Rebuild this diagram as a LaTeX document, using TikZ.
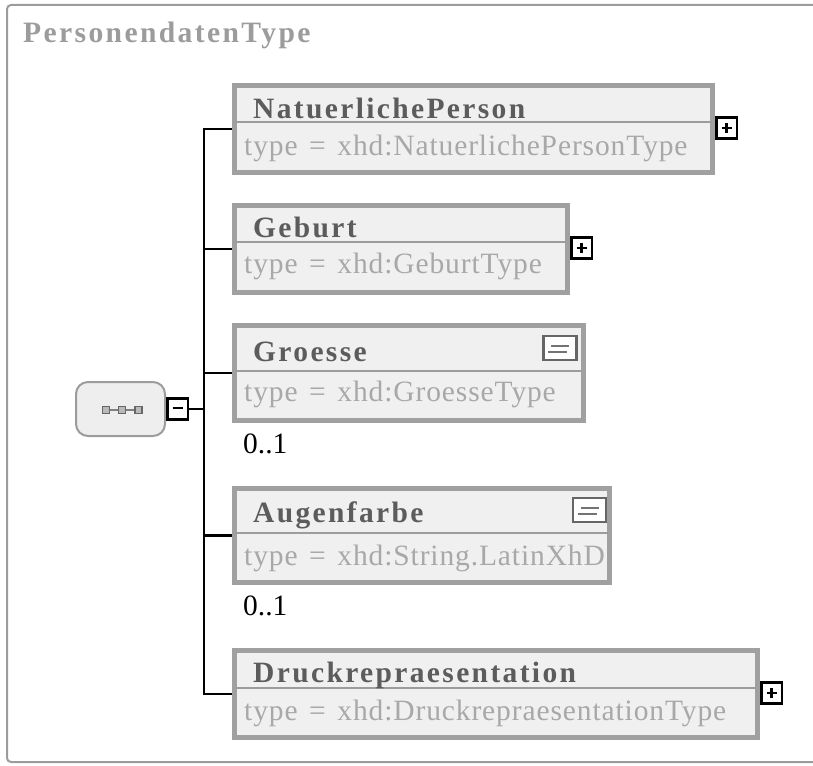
\documentclass[tikz,border=0pt]{standalone}
\usepackage{fontspec}
\setmainfont{Liberation Serif}
\newfontfamily\namefont[LetterSpace=8]{Liberation Serif}
\newfontfamily\typefont[LetterSpace=3,WordSpace=1.4]{Liberation Serif}
\definecolor{framegray}{HTML}{9C9C9C}
\definecolor{boxgray}{HTML}{A0A0A0}
\definecolor{boxfill}{HTML}{F0F0F0}
\definecolor{namegray}{HTML}{5C5C5C}
\definecolor{typegray}{HTML}{A8A8A8}
\definecolor{seqfill}{HTML}{EEEEEE}
\begin{document}
\begin{tikzpicture}[x=1pt,y=-1pt,
  frame/.style={draw=framegray,line width=2pt,rounded corners=4pt},
  elem/.style={draw=boxgray,line width=5pt,fill=boxfill,inner sep=0pt},
  sepline/.style={draw=framegray,line width=2.5pt},
  elname/.style={anchor=base west,inner sep=0pt,text=namegray,
    font=\namefont\bfseries\fontsize{29.5}{34}\selectfont},
  eltype/.style={anchor=base west,inner sep=0pt,text=typegray,
    font=\typefont\fontsize{29.5}{34}\selectfont},
  occurs/.style={anchor=base west,inner sep=0pt,
    font=\fontsize{29.5}{34}\selectfont},
  togglebox/.style={draw,line width=2.6pt,fill=white,minimum size=20.5pt,inner sep=0pt},
  sign/.style={line width=2.8pt},
  conn/.style={draw,line width=2.5pt},
  seqbox/.style={draw=framegray,line width=2pt,fill=seqfill,rounded corners=12pt,
    minimum width=89pt,minimum height=54pt},
  seqdot/.style={draw=gray!80!black,line width=1.4pt,fill=gray!55,minimum size=7pt,inner sep=0pt},
  docicon/.style={draw=gray!80!black,line width=2.4pt,fill=white,
    minimum width=33pt,minimum height=24pt,inner sep=0pt},
  docline/.style={draw=gray!90!black,line width=2pt}]
  \useasboundingbox (0,0) rectangle (813,765);
  % outer complex type
  \draw[frame] (7,5) rectangle (840,762);
  \node[anchor=base west,inner sep=0pt,text=framegray,
    font=\namefont\bfseries\fontsize{29.6}{35}\selectfont] (typename) at (23,43) {PersonendatenType};
  % sequence compositor
  \node[seqbox] (seq) at (120.5,409) {};
  \node[seqdot] (seqa) at (106,410) {};
  \node[seqdot] (seqb) at (122,410) {};
  \node[seqdot] (seqc) at (138.5,410) {};
  \draw[draw=gray,line width=2pt] (seqa) -- (seqb) (seqb) -- (seqc);
  \node[togglebox,anchor=west] (seqtoggle) at (seq.east) {};
  \draw[sign] ([xshift=-5pt,yshift=1pt]seqtoggle.center) -- ([xshift=5pt,yshift=1pt]seqtoggle.center);
  \coordinate (fork) at ([xshift=15pt]seqtoggle.east);
  % elements
  \node[elem,minimum width=478pt,minimum height=87pt] (natp) at (473.5,129) {};
  \node[elem,minimum width=333pt,minimum height=87pt] (geburt) at (401,249) {};
  \node[elem,minimum width=349pt,minimum height=95pt] (groesse) at (409,373) {};
  \node[elem,minimum width=375pt,minimum height=94pt] (augen) at (422,535.5) {};
  \node[elem,minimum width=523pt,minimum height=87pt] (druck) at (496,694) {};
  \draw[sepline] (234,122) -- (712,122);
  \draw[sepline] (234,242) -- (567,242);
  \draw[sepline] (234,371) -- (581,371);
  \draw[sepline] (234,533) -- (609,533);
  \draw[sepline] (234,688) -- (755,688);
  \node[elname] (natpname) at (253,118) {NatuerlichePerson};
  \node[eltype] (natptype) at (244,155) {type = xhd:NatuerlichePersonType};
  \node[elname] (geburtname) at (253,237) {Geburt};
  \node[eltype] (geburttype) at (244,273) {type = xhd:GeburtType};
  \node[elname] (groessename) at (253,361) {Groesse};
  \node[eltype] (groessetype) at (244,401) {type = xhd:GroesseType};
  \node[elname] (augenname) at (253,522) {Augenfarbe};
  \node[eltype] (augentype) at (244,565) {type = xhd:String.LatinXhD};
  \node[elname] (druckname) at (253,682) {Druckrepraesentation};
  \node[eltype] (drucktype) at (244,720) {type = xhd:DruckrepraesentationType};
  % documentation icons
  \node[docicon] (groessedoc) at (560,348) {};
  \node[docicon] (augendoc) at (589.5,510) {};
  \foreach \d in {groessedoc,augendoc}{
    \draw[docline] ([xshift=-9pt,yshift=2.5pt]\d.center) -- ([xshift=9pt,yshift=2.5pt]\d.center);
    \draw[docline] ([xshift=-12pt,yshift=-3.5pt]\d.center) -- ([xshift=7pt,yshift=-3.5pt]\d.center);
  }
  % occurrences
  \node[occurs] (groesseocc) at (243,453) {0..1};
  \node[occurs] (augenocc) at (243,615) {0..1};
  % expand toggles
  \node[togglebox,anchor=west] (natptoggle) at ([yshift=1pt]natp.east) {};
  \node[togglebox,anchor=west] (geburttoggle) at ([yshift=1pt]geburt.east) {};
  \node[togglebox,anchor=west] (drucktoggle) at ([yshift=1pt]druck.east) {};
  \foreach \t in {natptoggle,geburttoggle,drucktoggle}
    \draw[sign] ([xshift=-5pt]\t.center) -- ([xshift=5pt]\t.center)
      ([yshift=-5pt]\t.center) -- ([yshift=5pt]\t.center);
  % connectors
  \draw[conn] (seqtoggle.east) -- (fork);
  \foreach \e in {natp,geburt,groesse,augen,druck}
    \draw[conn] (\e.west) -| (fork);
\end{tikzpicture}
\end{document}
